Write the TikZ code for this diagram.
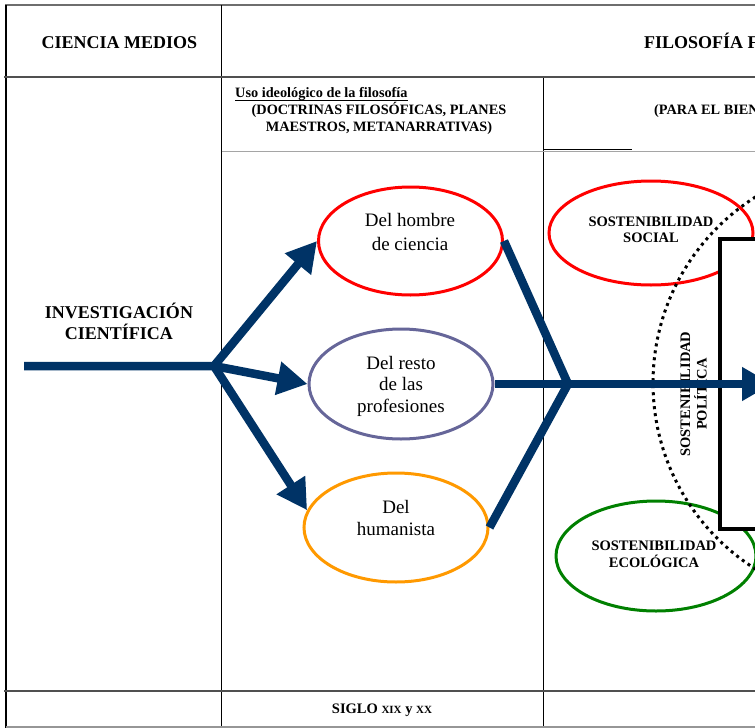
\documentclass[tikz,border=0pt]{standalone}
\usepackage{fontspec}
\setmainfont{Liberation Serif}
\usetikzlibrary{arrows.meta,shapes.geometric}
\definecolor{navy}{RGB}{0,51,102}
\definecolor{lavend}{RGB}{102,102,153}
\definecolor{orng}{RGB}{255,153,0}
\definecolor{grn}{RGB}{0,128,0}
\definecolor{topgray}{RGB}{110,110,110}
\definecolor{midgray}{RGB}{80,80,80}
\definecolor{litgray}{RGB}{165,165,165}
\definecolor{botgray}{RGB}{150,150,150}
\newcommand{\mlines}[1]{\vtop{\let\\\cr\halign{\hfil##\hfil\cr#1\crcr}}}
\begin{document}
\begin{tikzpicture}[x=1pt,y=-1pt,
  oval/.style={ellipse, draw=#1, line width=3pt, inner sep=0pt},
  flow/.style={draw=navy, line width=8.5pt},
  fat/.style={-{Triangle[length=30pt,width=32pt]}},
  hdr/.style={font=\fontsize{18}{21}\selectfont\bfseries, inner sep=0pt},
  sub/.style={font=\fontsize{14.3}{16.7}\selectfont\bfseries, inner sep=0pt},
  ovtxt/.style={font=\fontsize{19}{#1}\selectfont, inner sep=0pt},
  sost/.style={font=\fontsize{14.5}{16.7}\selectfont\bfseries, inner sep=0pt},
  thin/.style={line width=1pt, draw=black}
]
\useasboundingbox (0,0) rectangle (755,728);
\clip (0,0) rectangle (755,728);
% table
\draw[line width=1.5pt, draw=topgray] (5,5) -- (755,5);
\draw[line width=1.2pt] (6,5) -- (6,728);
\draw[thin] (221.5,5) -- (221.5,728);
\draw[thin] (543.5,77) -- (543.5,728);
\draw[line width=1.5pt, draw=midgray] (4,77) -- (755,77);
\draw[line width=1pt, draw=litgray] (221.5,151.5) -- (755,151.5);
\draw[thin] (543.5,149) -- (632,149);
\draw[line width=1.5pt, draw=midgray] (4,691) -- (755,691);
\draw[line width=1.5pt, draw=botgray] (6,727) -- (755,727);
% header texts
\node[hdr, anchor=base] (ciencia) at (119.5,48.5) {CIENCIA MEDIOS};
\node[hdr, anchor=base west] (filo) at (644,48.5) {FILOSOFÍA F};
\node[sub, anchor=base west] (uso) at (235,97.7) {Uso ideológico de la filosofía};
\draw[line width=1pt] ([yshift=-2.4pt]uso.base west) -- ([yshift=-2.4pt]uso.base east);
\node[sub, anchor=base] (doct) at (379,114.3) {\mlines{(DOCTRINAS FILOSÓFICAS, PLANES\\MAESTROS, METANARRATIVAS)}};
\node[sub, anchor=base west] (bien) at (654,114.3) {(PARA EL BIEN};
\node[hdr, anchor=base] (inv) at (119,318.3) {\mlines{INVESTIGACIÓN\\CIENTÍFICA}};
\node[font=\fontsize{14.5}{17}\selectfont\bfseries, inner sep=0pt, anchor=base] (siglo) at (382,713.3) {SIGLO {\fontsize{11}{13}\selectfont XIX} y {\fontsize{11}{13}\selectfont XX}};
% ellipses
\node[oval=red, minimum width=184pt, minimum height=108pt] (hombre) at (410.5,241) {};
\node[oval=lavend, minimum width=184pt, minimum height=110pt] (resto) at (401,384) {};
\node[oval=orng, minimum width=184pt, minimum height=109pt] (human) at (396,527.5) {};
\node[oval=red, minimum width=204pt, minimum height=104pt] (social) at (651,233) {};
\node[oval=grn, minimum width=200pt, minimum height=110pt] (ecol) at (656,556) {};
\node[ovtxt=23.3, anchor=base] (thombre) at (410,226.7) {\mlines{Del hombre\\de ciencia}};
\node[ovtxt=21.5, anchor=base] (tresto) at (401,369.3) {\mlines{Del resto\\de las\\profesiones}};
\node[ovtxt=21.7, anchor=base] (thuman) at (396,513.3) {\mlines{Del\\humanista}};
\node[sost, anchor=base] (tsocial) at (651,226) {\mlines{SOSTENIBILIDAD\\SOCIAL}};
\node[sost, anchor=base] (tecol) at (654,550.7) {\mlines{SOSTENIBILIDAD\\ECOLÓGICA}};
% black box
\draw[line width=4pt, fill=white] (720,239) rectangle (830,529);
% dotted circle
\draw[line width=3pt, dash pattern=on 3pt off 4pt] (873,383) circle[radius=220];
\node[sost, rotate=90, anchor=base] (tpol) at (690,394) {\mlines{SOSTENIBILIDAD\\POLÍTICA}};
% arrows
\coordinate (start) at (24,366);
\coordinate (J) at (214,366);
\coordinate (C) at (568,384);
\coordinate (tipR) at (772,384);
\draw[flow, fat] (start) -- (J) -- (hombre.west);
\draw[flow, fat, line cap=round] (J) -- (resto.west);
\draw[flow, fat, line cap=round] (J) -- (human.169);
\draw[flow] (hombre.east) -- (C) -- (human.east);
\draw[flow, fat] (resto.east) -- (tipR);
\end{tikzpicture}
\end{document}
